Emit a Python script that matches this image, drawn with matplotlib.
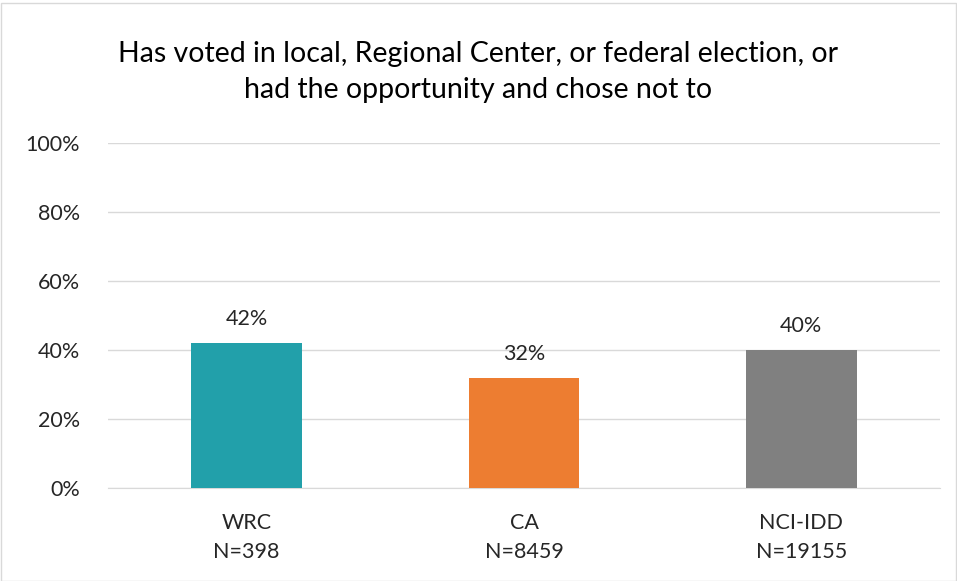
import matplotlib.pyplot as plt
from matplotlib.patches import Rectangle
from matplotlib.ticker import MultipleLocator, PercentFormatter

plt.rcParams['font.family'] = ['Lato', 'DejaVu Sans']

groups = ['WRC\nN=398', 'CA\nN=8459', 'NCI-IDD\nN=19155']
values = [42, 32, 40]
colors = ['#22A0AA', '#ED7D31', '#808080']
title = 'Has voted in local, Regional Center, or federal election, or\nhad the opportunity and chose not to'

fig = plt.figure(figsize=(9.57, 5.81), dpi=100)
ax = fig.add_axes([108 / 957, 1 - 488 / 581, 832 / 957, 345 / 581])

x = range(len(groups))
bars = ax.bar(x, values, width=0.4, color=colors, zorder=3)
for b, v in zip(bars, values):
    ax.text(b.get_x() + b.get_width() / 2, v + 4, f'{v}%',
            ha='center', va='bottom', fontsize=15.5, color='#262626')

ax.set_xlim(-0.5, 2.5)
ax.set_ylim(0, 100)
ax.yaxis.set_major_locator(MultipleLocator(20))
ax.yaxis.set_major_formatter(PercentFormatter(decimals=0))
ax.grid(axis='y', color='#D9D9D9', linewidth=1, zorder=0)
ax.set_xticks(list(x))
ax.set_xticklabels(groups, fontsize=15.5, color='#262626', linespacing=1.55)
ax.tick_params(axis='y', labelsize=15.5, labelcolor='#262626', length=0, pad=20)
ax.tick_params(axis='x', length=0, pad=18)
for s in ['top', 'right', 'left']:
    ax.spines[s].set_visible(False)
ax.spines['bottom'].set_color('#D9D9D9')

fig.text(0.5, 1 - 72 / 581, title, ha='center', va='center', fontsize=20.5,
         color='#000000', linespacing=1.5)

fig.patches.append(Rectangle((0.5 / 957, 0.5 / 581), 955 / 957, 578 / 581,
                             transform=fig.transFigure, fill=False,
                             edgecolor='#D9D9D9', linewidth=1))

fig.savefig('out.png', dpi=100)
